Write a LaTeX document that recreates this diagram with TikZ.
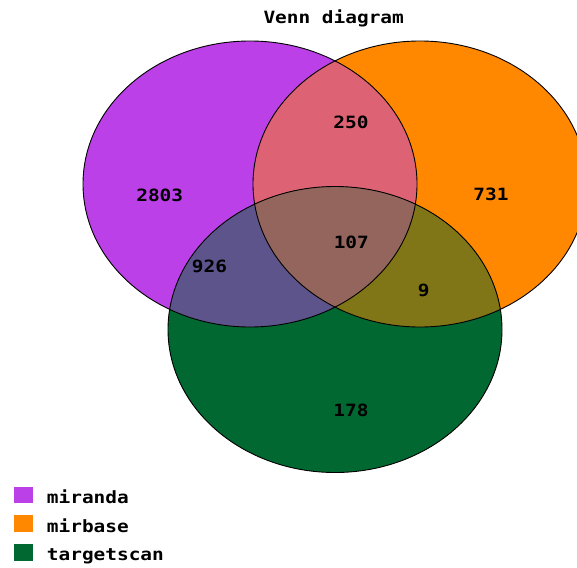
\documentclass[tikz,border=0pt]{standalone}
\usepackage{fontspec}
\newfontfamily\pix[FakeStretch=1.15]{DejaVu Sans Mono Bold}
\definecolor{cP}{RGB}{187,64,232}
\definecolor{cO}{RGB}{255,136,0}
\definecolor{cG}{RGB}{0,104,48}
\definecolor{cPO}{RGB}{221,98,116}
\definecolor{cPG}{RGB}{94,84,140}
\definecolor{cOG}{RGB}{128,118,24}
\definecolor{cPOG}{RGB}{148,101,93}
\def\ellP{(250,184) ellipse [x radius=167, y radius=143]}
\def\ellO{(420,184) ellipse [x radius=167, y radius=143]}
\def\ellG{(335,329.5) ellipse [x radius=167, y radius=143]}
\begin{document}
\begin{tikzpicture}[x=1pt,y=-1pt,
  lbl/.style={font=\pix\fontsize{16.9}{18}\selectfont, inner sep=0pt, text=black},
  outline/.style={draw=black, line width=0.9pt},
  key/.style={minimum width=19pt, minimum height=16.5pt, inner sep=0pt, anchor=south west}]
\useasboundingbox (0,0) rectangle (577,567);
\clip (0,0) rectangle (577,567);
\fill[cP] \ellP;
\fill[cO] \ellO;
\fill[cG] \ellG;
\begin{scope}\clip \ellP; \fill[cPO] \ellO; \end{scope}
\begin{scope}\clip \ellP; \fill[cPG] \ellG; \end{scope}
\begin{scope}\clip \ellO; \fill[cOG] \ellG; \end{scope}
\begin{scope}\clip \ellP; \clip \ellO; \fill[cPOG] \ellG; \end{scope}
\draw[outline] \ellP;
\draw[outline] \ellO;
\draw[outline] \ellG;
\node[lbl, anchor=base] (title) at (333.7,24) {Venn diagram};
\node[lbl] (n2803) at (159.7,195) {2803};
\node[lbl] (n250) at (351,122) {250};
\node[lbl] (n731) at (491,194.3) {731};
\node[lbl] (n107) at (351.3,242.3) {107};
\node[lbl] (n926) at (209.5,266.7) {926};
\node[lbl] (n9) at (423.7,290) {9};
\node[lbl] (n178) at (351,410) {178};
\node[key, fill=cP] (kP) at (13.3,503.3) {};
\node[lbl, anchor=base west] (tP) at (46.7,503.3) {miranda};
\node[key, fill=cO] (kO) at (13.3,532) {};
\node[lbl, anchor=base west] (tO) at (46.7,532) {mirbase};
\node[key, fill=cG] (kG) at (13.3,560.7) {};
\node[lbl, anchor=base west] (tG) at (46.7,560.7) {targetscan};
\end{tikzpicture}
\end{document}
